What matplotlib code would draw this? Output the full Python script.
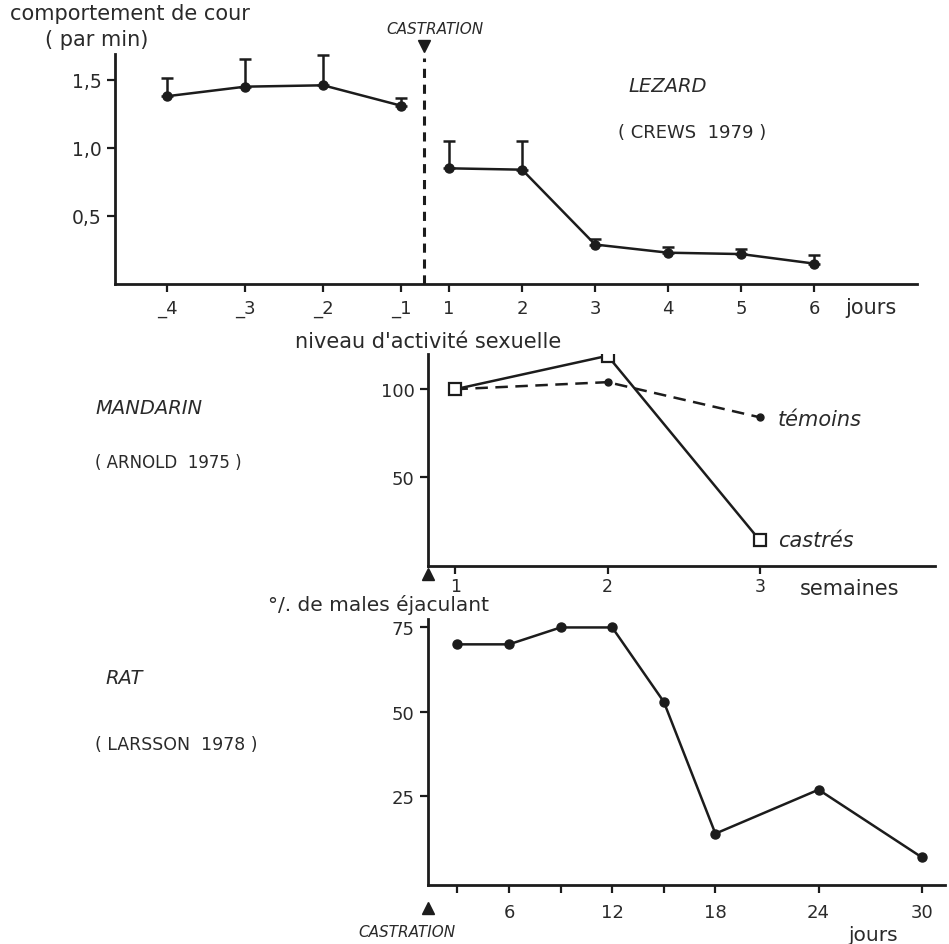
import matplotlib
matplotlib.use("Agg")
import matplotlib.pyplot as plt
import numpy as np

# ---------------- data ----------------
# Lizard (Crews 1979): courtship behaviour per minute
liz_days = [-4, -3, -2, -1, 1, 2, 3, 4, 5, 6]
liz_mean = [1.38, 1.45, 1.46, 1.31, 0.85, 0.84, 0.29, 0.23, 0.22, 0.15]
liz_upper = [1.51, 1.65, 1.68, 1.37, 1.05, 1.05, 0.33, 0.27, 0.26, 0.21]
liz_ticklabels = ["_4", "_3", "_2", "_1", "1", "2", "3", "4", "5", "6"]

# Mandarin (Arnold 1975): level of sexual activity
mand_weeks = [1, 2, 3]
mand_castres = [100, 119, 14]
mand_temoins = [100, 104, 84]

# Rat (Larsson 1978): % of males ejaculating
rat_days = [3, 6, 9, 12, 15, 18, 24, 30]
rat_pct = [70, 70, 75, 75, 53, 14, 27, 7]
rat_ticks = [3, 6, 9, 12, 15, 18, 24, 30]
rat_ticklabels = ["", "6", "", "12", "", "18", "24", "30"]

INK = "#1c1c1c"
TXT = "#2a2a2a"
FONT = "DejaVu Sans"
plt.rcParams["font.family"] = [FONT]

W, H = 949, 945
fig = plt.figure(figsize=(W / 100, H / 100), dpi=100)
fig.patch.set_facecolor("white")


def fx(px):
    return px / W


def fy(py):
    return 1 - py / H


def ftext(px, py, s, **kw):
    kw.setdefault("color", TXT)
    kw.setdefault("va", "center")
    fig.text(fx(px), fy(py), s, **kw)


def style_axes(ax):
    for side in ("top", "right"):
        ax.spines[side].set_visible(False)
    for side in ("left", "bottom"):
        ax.spines[side].set_linewidth(2.0)
        ax.spines[side].set_color(INK)
    ax.tick_params(axis="both", colors=INK, labelcolor=TXT, width=1.6, length=6,
                   labelsize=13)
    ax.set_facecolor("none")


# ---------------- top panel: lizard ----------------
ax1 = fig.add_axes([fx(115), fy(285), fx(917 - 115), (285 - 55) / H])
style_axes(ax1)


def liz_pos(d):
    # broken day axis: negative days spaced evenly, gap around castration
    return d if d < 0 else -0.385 + (d - 1) * 0.936


pos = [liz_pos(d) for d in liz_days]
pre = [i for i, d in enumerate(liz_days) if d < 0]
post = [i for i, d in enumerate(liz_days) if d > 0]
for idx in (pre, post):
    xs = [pos[i] for i in idx]
    ys = [liz_mean[i] for i in idx]
    lo = [0 for _ in idx]
    hi = [liz_upper[i] - liz_mean[i] for i in idx]
    ax1.plot(xs, ys, "-", color=INK, lw=1.8, zorder=2)
    ax1.errorbar(xs, ys, yerr=[lo, hi], fmt="o", color=INK, ms=6.5,
                 elinewidth=1.8, capsize=4, capthick=1.8, zorder=3)

cast_x = -0.705
ax1.plot([cast_x, cast_x], [0, 1.66], color=INK, lw=2.2, ls=(0, (3, 2.2)), zorder=1)
ax1.plot([cast_x], [1.75], marker="v", color=INK, ms=9, clip_on=False)
ax1.set_xlim(-4.67, 5.615)
ax1.set_ylim(0, 1.69)
ax1.set_xticks(pos)
ax1.set_xticklabels(liz_ticklabels)
ax1.set_yticks([0.5, 1.0, 1.5])
ax1.set_yticklabels(["0,5", "1,0", "1,5"], fontsize=13.5)
ax1.tick_params(axis="x", pad=5)

ftext(10, 14, "comportement de cour", fontsize=15)
ftext(45, 40, "( par min)", fontsize=15)
ftext(435, 30, "CASTRATION", fontsize=11, style="italic", ha="center")
ftext(668, 86, "LEZARD", fontsize=14, style="italic", ha="center")
ftext(692, 133, "( CREWS  1979 )", fontsize=13, ha="center")
ftext(845, 308, "jours", fontsize=15)

# ---------------- middle panel: mandarin ----------------
ax2 = fig.add_axes([fx(428), fy(567), fx(935 - 428), (567 - 355) / H])
style_axes(ax2)
ax2.plot(mand_weeks, mand_temoins, ls=(0, (5, 3)), color=INK, lw=1.8,
         marker="o", ms=5, zorder=2)
ax2.plot(mand_weeks, mand_castres, "-", color=INK, lw=1.8, marker="s", ms=8,
         mfc="white", mec=INK, mew=1.6, zorder=3)
ax2.set_xlim(0.82, 4.15)
ax2.set_ylim(-0.5, 120)
ax2.set_xticks(mand_weeks)
ax2.set_yticks([50, 100])
ax2.tick_params(axis="x", pad=2, labelsize=12.5)
ax2.annotate("témoins", (mand_weeks[-1], mand_temoins[-1]), xytext=(13, -1),
             textcoords="offset points", fontsize=15, style="italic",
             color=TXT, va="center")
ax2.annotate("castrés", (mand_weeks[-1], mand_castres[-1]), xytext=(13, 0),
             textcoords="offset points", fontsize=15, style="italic",
             color=TXT, va="center")
ax2.plot([0.82], [-5], marker="^", color=INK, ms=9, clip_on=False)

ftext(295, 342, "niveau d'activité sexuelle", fontsize=15)
ftext(95, 408, "MANDARIN", fontsize=14, style="italic")
ftext(95, 463, "( ARNOLD  1975 )", fontsize=12)
ftext(800, 589, "semaines", fontsize=15)

# ---------------- bottom panel: rat ----------------
ax3 = fig.add_axes([fx(428), fy(886), fx(945 - 428), (886 - 620) / H])
style_axes(ax3)
ax3.plot(rat_days, rat_pct, "-o", color=INK, lw=1.8, ms=6.5)
ax3.set_xlim(1.29, 31.35)
ax3.set_ylim(-1.2, 77.5)
ax3.set_xticks(rat_ticks)
ax3.set_xticklabels(rat_ticklabels)
ax3.set_yticks([25, 50, 75])
ax3.tick_params(axis="x", pad=7)
ax3.plot([1.29], [-8], marker="^", color=INK, ms=9, clip_on=False)

ftext(268, 611, "°/. de males éjaculant", fontsize=14.5, va="baseline")
ftext(105, 678, "RAT", fontsize=14, style="italic")
ftext(95, 745, "( LARSSON  1978 )", fontsize=12.5)
ftext(358, 933, "CASTRATION", fontsize=11, style="italic")
ftext(848, 936, "jours", fontsize=14.5)

fig.savefig("out.png", dpi=100, facecolor="white")
